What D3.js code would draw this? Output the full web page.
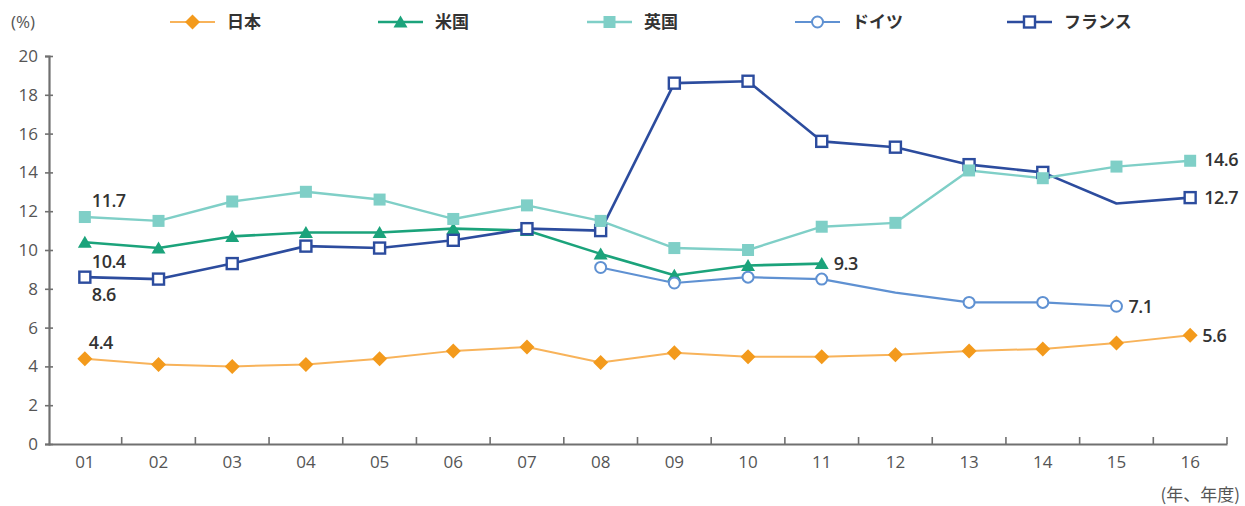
<!DOCTYPE html>
<html>
<head>
<meta charset="utf-8">
<script src="https://cdn.jsdelivr.net/npm/d3@7"></script>
<style>
  html, body { margin: 0; padding: 0; background: #fff; }
  svg { display: block; }
</style>
</head>
<body>
<svg id="chart" width="1245" height="506"></svg>
<script>
// Fiscal years shown on the x axis
const years = ["01","02","03","04","05","06","07","08","09","10","11","12","13","14","15","16"];
const yTicks = [0, 2, 4, 6, 8, 10, 12, 14, 16, 18, 20];

// Rates by country (%), null where no figure is available
const japan   = [4.4, 4.1, 4.0, 4.1, 4.4, 4.8, 5.0, 4.2, 4.7, 4.5, 4.5, 4.6, 4.8, 4.9, 5.2, 5.6];
const usa     = [10.4, 10.1, 10.7, 10.9, 10.9, 11.1, 11.0, 9.8, 8.7, 9.2, 9.3, null, null, null, null, null];
const uk      = [11.7, 11.5, 12.5, 13.0, 12.6, 11.6, 12.3, 11.5, 10.1, 10.0, 11.2, 11.4, 14.1, 13.7, 14.3, 14.6];
const germany = [null, null, null, null, null, null, null, 9.1, 8.3, 8.6, 8.5, 7.8, 7.3, 7.3, 7.1, null];
const france  = [8.6, 8.5, 9.3, 10.2, 10.1, 10.5, 11.1, 11.0, 18.6, 18.7, 15.6, 15.3, 14.4, 14.0, 12.4, 12.7];

// Years that are plotted on the line but carry no marker
const germanyUnmarked = ["12"];
const franceUnmarked  = ["15"];

// Series names
const names = ["日本", "米国", "英国", "ドイツ", "フランス"];

const series = [
  { name: names[0], values: japan,   color: "#f8b35a", mcolor: "#f39a1c", shape: "diamond",  width: 2,   unmarked: [],
    labels: [{ i: 0, dx: 4, dy: -14 }, { i: 15, dx: 12, dy: 2 }] },
  { name: names[3], values: germany, color: "#5f91d2", mcolor: "#5f91d2", shape: "circle",   width: 2.2, unmarked: germanyUnmarked,
    labels: [{ i: 14, dx: 12, dy: 2 }] },
  { name: names[1], values: usa,     color: "#1ba37b", mcolor: "#1ba37b", shape: "triangle", width: 2.6, unmarked: [],
    labels: [{ i: 0, dx: 7, dy: 21 }, { i: 10, dx: 12, dy: 2 }] },
  { name: names[4], values: france,  color: "#2c4c9e", mcolor: "#2c4c9e", shape: "square",   width: 2.6, unmarked: franceUnmarked,
    labels: [{ i: 0, dx: 7, dy: 19 }, { i: 15, dx: 14, dy: 2 }] },
  { name: names[2], values: uk,      color: "#7fcfc7", mcolor: "#7fcfc7", shape: "fsquare",  width: 2.4, unmarked: [],
    labels: [{ i: 0, dx: 7, dy: -15 }, { i: 15, dx: 14, dy: 0 }] }
];

const svg = d3.select("#chart");
const x = d3.scaleBand().domain(years).range([48, 1227]);
const y = d3.scaleLinear().domain([0, 20]).range([444, 56]);
const cx = d => x(d) + x.bandwidth() / 2;

const tickFont = "'Open Sans', 'Noto Sans', sans-serif";

// Y axis
const yAxis = svg.append("g").attr("transform", "translate(49,0)")
  .call(d3.axisLeft(y).tickValues(yTicks).tickSize(4).tickPadding(7));
yAxis.select(".domain").attr("stroke", "#707070").attr("stroke-width", 2.2);
yAxis.selectAll(".tick line").attr("x1", 4).attr("x2", -4).attr("stroke", "#707070").attr("stroke-width", 1.6);
yAxis.selectAll(".tick text").attr("fill", "#555").style("font-size", "17px").style("font-family", tickFont);

// X axis: ticks sit on the band boundaries and point up
const xAxis = svg.append("g").attr("transform", "translate(0,444)")
  .call(d3.axisBottom(x).tickSize(0).tickPadding(12));
xAxis.select(".domain").attr("stroke", "#707070").attr("stroke-width", 2.2);
xAxis.selectAll(".tick text").attr("fill", "#555").style("font-size", "17px").style("font-family", tickFont);
xAxis.selectAll(".bound").data(years).enter().append("line")
  .attr("x1", d => x(d) + x.bandwidth()).attr("x2", d => x(d) + x.bandwidth())
  .attr("y1", 0).attr("y2", -7)
  .attr("stroke", "#707070").attr("stroke-width", 1.6);

// Unit labels
svg.append("text").attr("x", 11).attr("y", 28).text("(%)")
  .attr("fill", "#555").style("font-size", "17px").style("font-family", tickFont);
svg.append("text").attr("x", 1240).attr("y", 501).attr("text-anchor", "end").text("(年、年度)")
  .attr("fill", "#555").style("font-size", "17px").style("font-family", "'Noto Sans CJK JP', sans-serif");

// Marker drawing
function marker(g, shape, fill, stroke) {
  if (shape === "diamond") {
    g.append("path").attr("d", "M0,-7.5L7.5,0L0,7.5L-7.5,0Z").attr("fill", fill);
  } else if (shape === "triangle") {
    g.append("path").attr("d", "M0,-6.5L7,5.5L-7,5.5Z").attr("fill", fill);
  } else if (shape === "circle") {
    g.append("circle").attr("r", 5.5).attr("fill", "#fff").attr("stroke", stroke).attr("stroke-width", 2);
  } else if (shape === "square") {
    g.append("rect").attr("x", -5.5).attr("y", -5.5).attr("width", 11).attr("height", 11)
      .attr("fill", "#fff").attr("stroke", stroke).attr("stroke-width", 2.4);
  } else if (shape === "fsquare") {
    g.append("rect").attr("x", -6).attr("y", -6).attr("width", 12).attr("height", 12).attr("fill", fill);
  }
}

const line = d3.line()
  .defined(d => d.v !== null)
  .x(d => cx(d.k))
  .y(d => y(d.v));

// Lines
const lineLayer = svg.append("g");
series.forEach(s => {
  const pts = years.map((k, i) => ({ k, v: s.values[i] }));
  lineLayer.append("path").datum(pts)
    .attr("d", line)
    .attr("fill", "none")
    .attr("stroke", s.color)
    .attr("stroke-width", s.width)
    .attr("stroke-linejoin", "round");
});

// Markers
const markLayer = svg.append("g");
["triangle", "circle", "square", "fsquare", "diamond"].forEach(shape => {
  const s = series.find(d => d.shape === shape);
  years.forEach((k, i) => {
    const v = s.values[i];
    if (v === null || s.unmarked.includes(k)) return;
    const g = markLayer.append("g").attr("transform", `translate(${cx(k)},${y(v)})`);
    marker(g, s.shape, s.mcolor, s.color);
  });
});

// Value labels
const labelFont = "'Open Sans', 'Noto Sans', sans-serif";
series.forEach(s => {
  s.labels.forEach(l => {
    const v = s.values[l.i];
    svg.append("text")
      .attr("x", cx(years[l.i]) + l.dx)
      .attr("y", y(v) + l.dy)
      .attr("dominant-baseline", "middle")
      .attr("fill", "#333")
      .style("font-size", "18px")
      .style("font-weight", 600)
      .style("letter-spacing", "-0.5px")
      .style("font-family", labelFont)
      .text(v.toFixed(1));
  });
});

// Legend
const legendOrder = [series[0], series[2], series[4], series[1], series[3]];
const legendX = [170, 378, 587, 795, 1007];
legendOrder.forEach((s, i) => {
  const g = svg.append("g").attr("transform", `translate(${legendX[i]},22)`);
  g.append("line").attr("x1", 0).attr("x2", 45).attr("stroke", s.color).attr("stroke-width", s.width);
  const m = g.append("g").attr("transform", "translate(22.5,0)");
  marker(m, s.shape, s.mcolor, s.color);
  g.append("text").attr("x", 57).attr("y", 1).attr("dominant-baseline", "middle")
    .attr("fill", "#333").style("font-size", "17px").style("font-weight", 700)
    .style("font-family", "'Noto Sans CJK JP', sans-serif").text(s.name);
});
</script>
</body>
</html>
